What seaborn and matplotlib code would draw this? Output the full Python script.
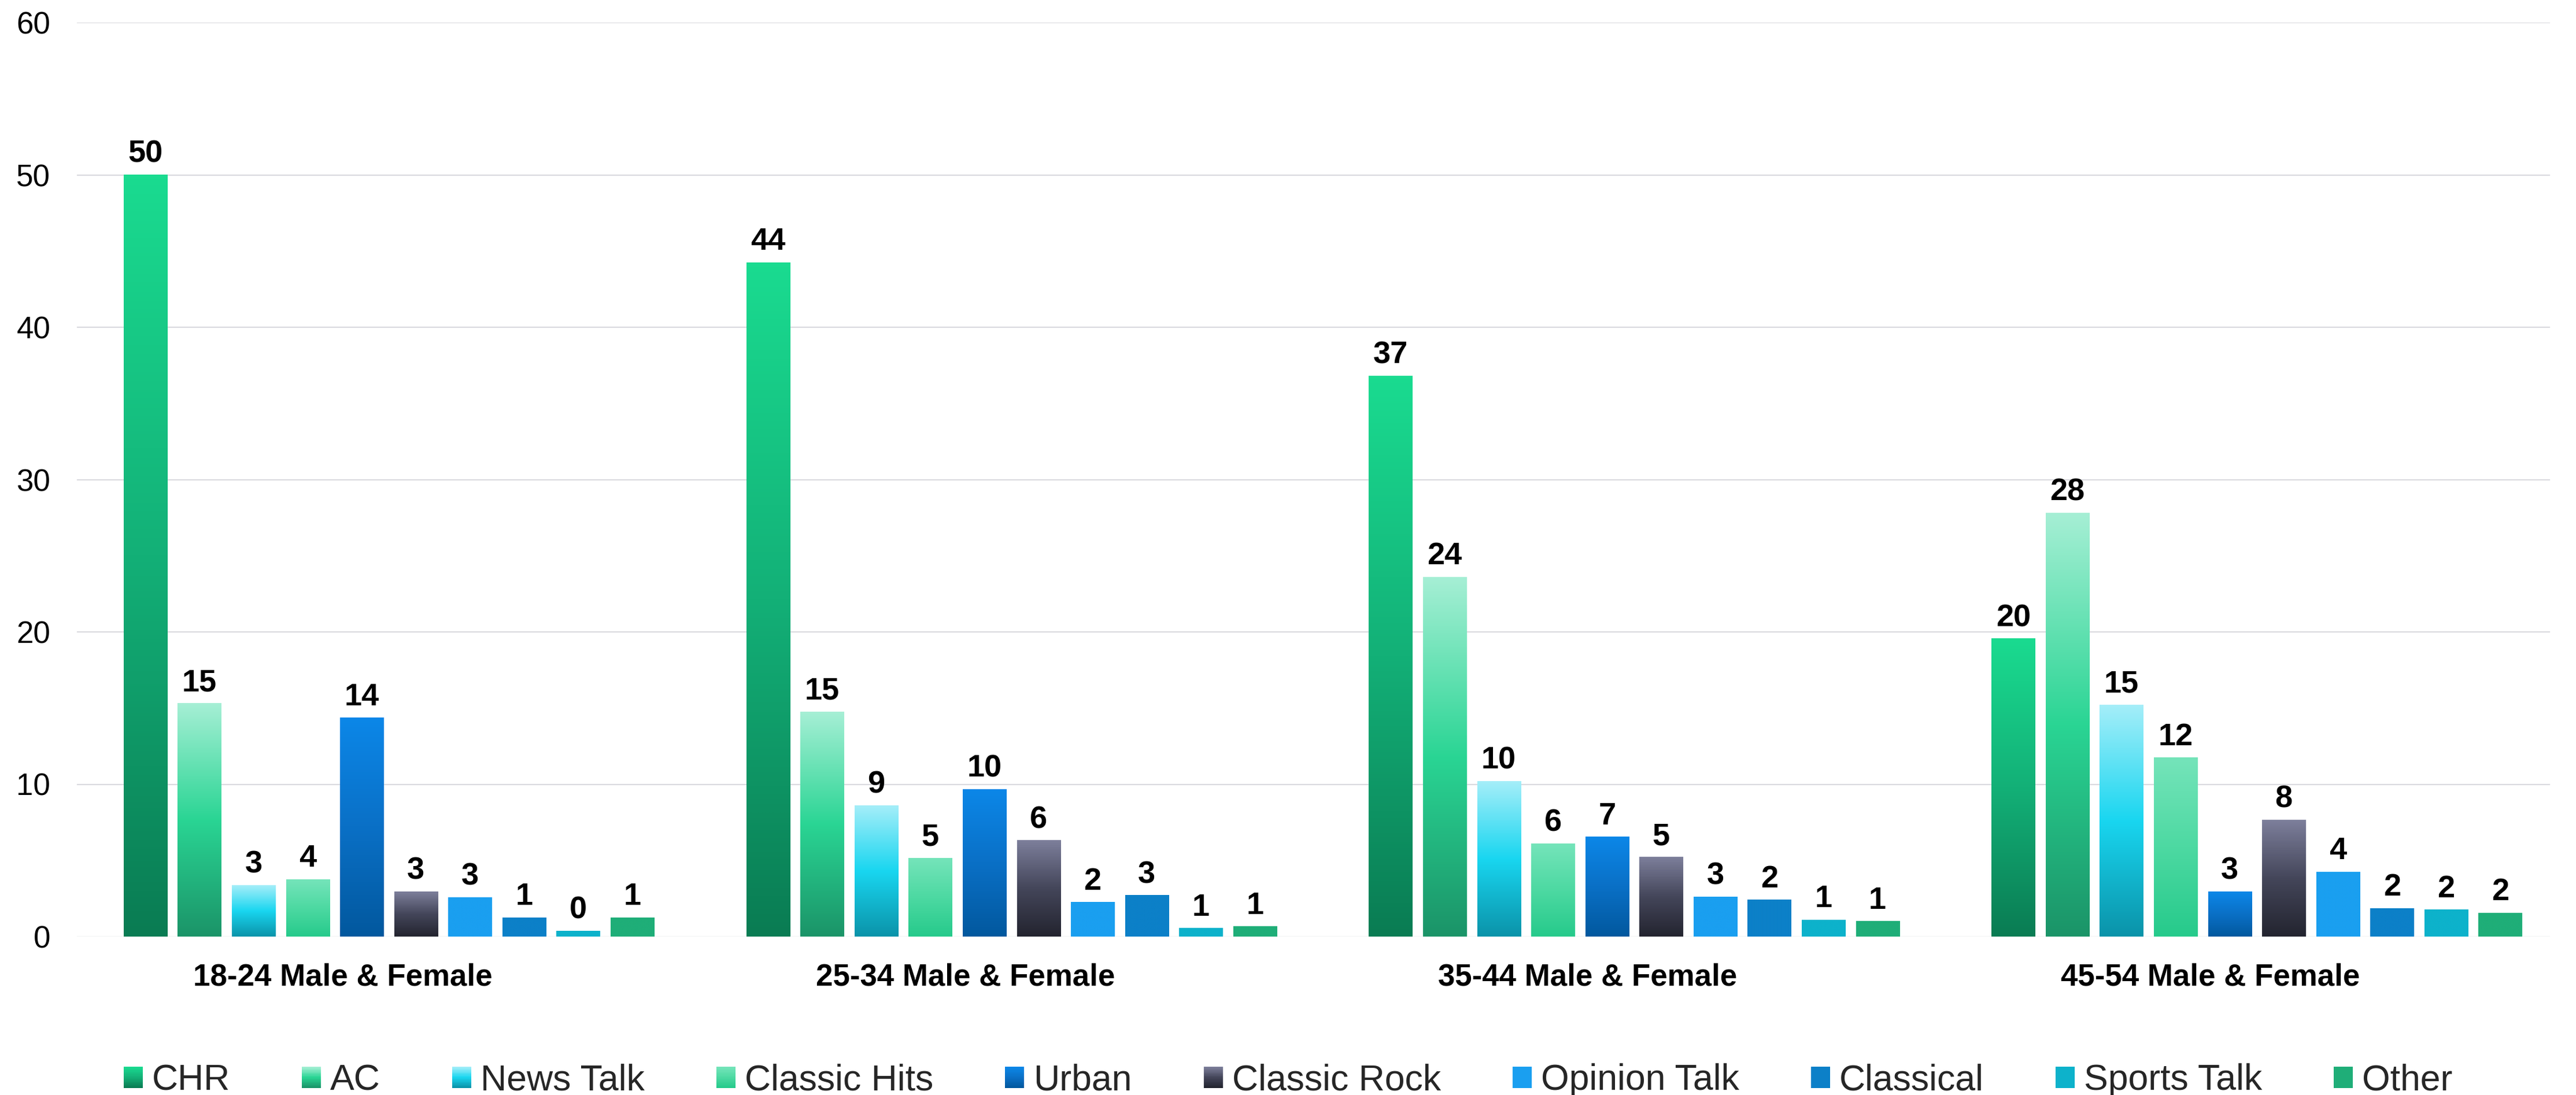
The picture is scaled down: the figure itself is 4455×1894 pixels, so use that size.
import numpy as np
import pandas as pd
import matplotlib
matplotlib.use("Agg")
import matplotlib.pyplot as plt
import seaborn as sns
from matplotlib.colors import LinearSegmentedColormap
from matplotlib.legend_handler import HandlerBase
from matplotlib.patches import Rectangle, Patch

# ---- data: audience share (%) by radio format and age group ----
groups = ["18-24 Male & Female", "25-34 Male & Female",
          "35-44 Male & Female", "45-54 Male & Female"]
formats = ["CHR", "AC", "News Talk", "Classic Hits", "Urban", "Classic Rock",
           "Opinion Talk", "Classical", "Sports Talk", "Other"]

chr_share = [50.0, 44.25, 36.8, 19.55]
ac_share = [15.3, 14.75, 23.6, 27.8]
news_talk_share = [3.35, 8.6, 10.2, 15.2]
classic_hits_share = [3.75, 5.15, 6.1, 11.75]
urban_share = [14.35, 9.65, 6.55, 2.95]
classic_rock_share = [2.95, 6.3, 5.2, 7.65]
opinion_talk_share = [2.55, 2.25, 2.6, 4.25]
classical_share = [1.25, 2.7, 2.4, 1.85]
sports_talk_share = [0.35, 0.55, 1.1, 1.75]
other_share = [1.25, 0.65, 1.0, 1.55]

y_ticks = [0, 10, 20, 30, 40, 50, 60]

series = [chr_share, ac_share, news_talk_share, classic_hits_share, urban_share,
          classic_rock_share, opinion_talk_share, classical_share,
          sports_talk_share, other_share]

df = pd.DataFrame({
    "group": [g for s in series for g in groups],
    "format": [f for f, s in zip(formats, series) for _ in s],
    "share": [v for s in series for v in s],
})

# gradient stops for each format, bottom -> top
gradient_stops = {
    "CHR": ["#0A7C53", "#13B077", "#1ADB90"],
    "AC": ["#1B9468", "#2AD594", "#A6EFD5"],
    "News Talk": ["#0B93A9", "#19D6F0", "#A5EEF9"],
    "Classic Hits": ["#26CA8B", "#4DD9A2", "#75E4BA"],
    "Urban": ["#02589E", "#0A70C6", "#0C87E8"],
    "Classic Rock": ["#23242F", "#44465A", "#7D7F9B"],
    "Opinion Talk": ["#1A9FF0", "#1A9FF0"],
    "Classical": ["#0C80C8", "#0C80C8"],
    "Sports Talk": ["#0DB2CB", "#0DB2CB"],
    "Other": ["#1FAE78", "#1FAE78"],
}
cmaps = {f: LinearSegmentedColormap.from_list(f, c) for f, c in gradient_stops.items()}

# ---- figure ----
sns.set_theme(style="white")
plt.rcParams["font.family"] = ["Liberation Sans", "DejaVu Sans"]

W, H, DPI = 4455, 1894, 300
fig = plt.figure(figsize=(W / DPI, H / DPI), dpi=DPI)
ax = fig.add_axes([133 / W, 1 - 1620 / H, (4410 - 133) / W, (1620 - 39) / H])

sns.barplot(data=df, x="group", y="share", hue="format", order=groups,
            hue_order=formats, palette=[gradient_stops[f][-1] for f in formats],
            width=0.869, gap=0.198, errorbar=None, legend=False, ax=ax)

# replace flat fills with vertical gradients
grad = np.linspace(0, 1, 256).reshape(-1, 1)
for fmt, cont in zip(formats, ax.containers):
    for rect in cont:
        x0, y0 = rect.get_xy()
        w, h = rect.get_width(), rect.get_height()
        if h > 0:
            ax.imshow(grad, cmap=cmaps[fmt], origin="lower", aspect="auto",
                      extent=(x0, x0 + w, y0, y0 + h), zorder=2,
                      interpolation="bilinear")
        rect.set_facecolor("none")
        rect.set_edgecolor("none")
    ax.bar_label(cont, fmt="%.0f", padding=2.6, fontsize=13,
                 fontweight="bold", color="black")

ax.set_xlim(-0.501, 3.471)
ax.set_ylim(0, 60)
ax.set_yticks(y_ticks)
ax.tick_params(axis="y", length=0, pad=11, labelsize=12.7, labelcolor="black")
ax.tick_params(axis="x", length=0, pad=11, labelsize=12.7, labelcolor="black")
ax.set_xticks(np.arange(len(groups)) - 0.0743)
ax.set_xticklabels(groups, fontweight="bold")
ax.set_xlabel("")
ax.set_ylabel("")

ax.set_axisbelow(True)
ax.yaxis.grid(True, color="#D9D9DE", linewidth=0.5)
ax.xaxis.grid(False)
gl = ax.yaxis.get_gridlines()
gl[0].set_color("#F2F4F4")
for sp in ax.spines.values():
    sp.set_visible(False)


class GradientHandler(HandlerBase):
    def __init__(self, cmap, steps=30):
        super().__init__()
        self.cmap = cmap
        self.steps = steps

    def create_artists(self, legend, orig_handle, xdescent, ydescent,
                       width, height, fontsize, trans):
        arts = []
        for k in range(self.steps):
            y = -ydescent + height * k / self.steps
            arts.append(Rectangle((-xdescent, y), width,
                                  height / self.steps * 1.05,
                                  facecolor=self.cmap(k / (self.steps - 1)),
                                  edgecolor="none", transform=trans))
        return arts


handles = [Patch(label=f) for f in formats]
hmap = {h: GradientHandler(cmaps[f]) for h, f in zip(handles, formats)}
fig.legend(handles=handles, labels=formats, handler_map=hmap,
           loc="center", bbox_to_anchor=(0.5, (H - 1869) / H), ncol=10,
           frameon=False, fontsize=15, handlelength=0.53, handleheight=0.53,
           handletextpad=0.26, columnspacing=1.98, borderpad=0)

fig.savefig("out.png", dpi=DPI)
